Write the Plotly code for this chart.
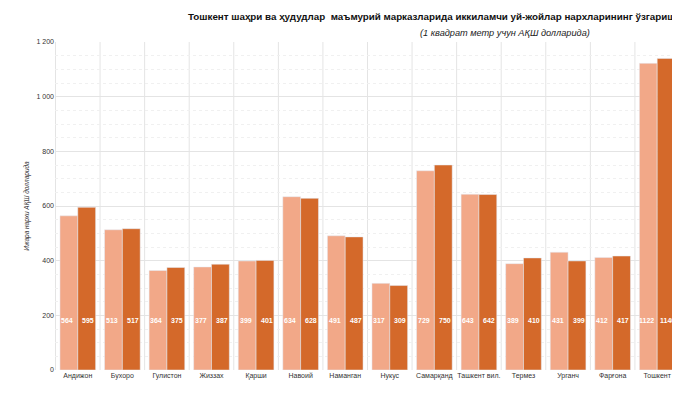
import plotly.graph_objects as go

cities = ["Андижон", "Бухоро", "Гулистон", "Жиззах", "Қарши", "Навоий", "Наманган",
          "Нукус", "Самарқанд", "Ташкент вил.", "Термез", "Урганч", "Фарғона", "Тошкент"]
jan = [564, 513, 364, 377, 399, 634, 491, 317, 729, 643, 389, 431, 412, 1122]
feb = [595, 517, 375, 387, 401, 628, 487, 309, 750, 642, 410, 399, 417, 1140]

fig = go.Figure()
fig.add_bar(x=cities, y=jan, name="Январь", marker_color="#F2A888")
fig.add_bar(x=cities, y=feb, name="Февраль", marker_color="#D4692A")

for i, c in enumerate(cities):
    for v, dx in ((jan[i], -10.5), (feb[i], 10.5)):
        fig.add_annotation(x=c, y=180, text=f"<b>{v}</b>", showarrow=False, xshift=dx,
                           font=dict(color="white", size=7, family="Liberation Sans"))

fig.update_layout(
    width=680, height=414, barmode="group", bargap=0.2, bargroupgap=0,
    plot_bgcolor="white", paper_bgcolor="white",
    font=dict(family="Liberation Sans", size=8, color="#333"),
    margin=dict(l=47, r=8, t=34, b=52, autoexpand=False),
    legend=dict(orientation="h", x=0.5, xanchor="center", y=-0.125, yanchor="top",
                font=dict(size=7), itemwidth=30, itemsizing="constant"),
    separators=". ",
)
fig.update_yaxes(range=[0, 1200], dtick=200, tickformat=",d",
                 gridcolor="#e4e4e4", showline=False, zeroline=False,
                 minor=dict(dtick=50, showgrid=True, gridcolor="#f0f0f0", griddash="dot"),
                 title=dict(text="<i>Ижара нархи АҚШ долларида</i>", font=dict(size=6.5), standoff=6),
                 tickfont=dict(size=7))
fig.update_xaxes(showgrid=False, tickangle=0, tickfont=dict(size=7))
for i in range(len(cities) + 1):
    fig.add_shape(type="line", xref="x", yref="paper", x0=i - 0.5, x1=i - 0.5, y0=0, y1=1,
                  line=dict(color="#e4e4e4", width=1), layer="below")

fig.add_annotation(xref="paper", yref="paper", x=1.005, y=1.1, xanchor="right", showarrow=False,
                   text="<b>Тошкент шаҳри ва ҳудудлар  маъмурий марказларида иккиламчи уй-жойлар нархларининг ўзгариши</b>",
                   font=dict(size=9.8, color="#111"))
fig.add_annotation(xref="paper", yref="paper", x=0.72, y=1.05, xanchor="center", showarrow=False,
                   text="<i>(1 квадрат метр учун АҚШ долларида)</i>", font=dict(size=9.2, color="#222"))
fig.add_annotation(xref="paper", yref="paper", x=-0.045, y=-0.16, xanchor="left", yanchor="top",
                   showarrow=False, text="<i>Манба: Очиқ маълумотларга асосланган web scraping</i>",
                   font=dict(size=10, color="#222"))

fig.write_html("out.html")
